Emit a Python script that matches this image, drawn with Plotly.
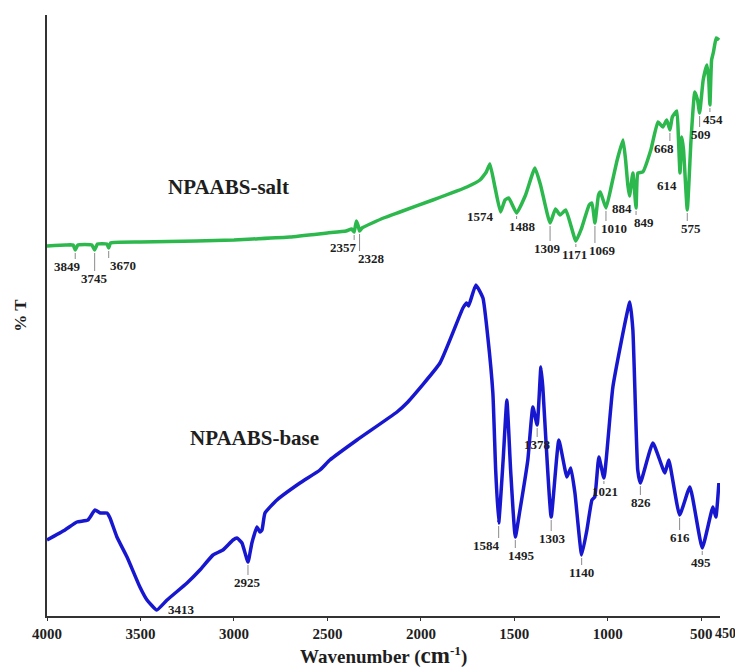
import plotly.graph_objects as go

# ---------------- data (wavenumber cm-1, %T in arbitrary units) ----------------
salt_wn = [4000, 3900, 3860, 3849, 3835, 3760, 3745, 3730, 3680, 3670, 3660, 3500, 3200, 3000,
           2900, 2700, 2500, 2400, 2370, 2357, 2345, 2335, 2328, 2315, 2200, 2112, 1936, 1754,
           1684, 1650, 1631, 1604, 1574, 1550, 1530, 1488, 1440, 1390, 1360, 1309, 1280, 1255,
           1225, 1171, 1140, 1100, 1085, 1069, 1050, 1040, 1010, 980, 950, 919, 905, 893, 884,
           866, 849, 839, 813, 770, 732, 706, 685, 668, 655, 631, 622, 614, 604, 595, 575, 555,
           535, 520, 509, 490, 470, 460, 454, 445, 435, 420, 405]
salt_t = [370, 371, 371, 366, 371, 371, 366, 372, 372, 368, 373, 374, 375, 376,
          377, 379, 383, 385, 387, 384, 395, 390, 385, 388, 398, 404, 416, 429,
          436, 444, 452, 429, 404, 416, 418, 403, 421, 448, 431, 393, 407, 401,
          406, 375, 388, 411, 413, 393, 421, 424, 408, 431, 456, 476, 456, 431, 420,
          443, 408, 443, 444, 466, 494, 489, 496, 486, 499, 505, 476, 443, 479, 466, 406, 476,
          524, 516, 503, 536, 551, 536, 511, 556, 564, 578, 576]

base_wn = [4000, 3904, 3840, 3781, 3743, 3715, 3679, 3663, 3626, 3572, 3503, 3465, 3413, 3358,
           3251, 3182, 3112, 3059, 3005, 2984, 2957, 2925, 2904, 2877, 2861, 2850, 2834, 2770,
           2647, 2540, 2487, 2342, 2128, 2075, 1898, 1775, 1755, 1745, 1706, 1668, 1642, 1615,
           1600, 1584, 1560, 1540, 1520, 1495, 1470, 1428, 1401, 1378, 1358, 1348, 1303, 1262,
           1219, 1198, 1176, 1140, 1112, 1085, 1070, 1048, 1021, 973, 882, 866, 840, 826, 759,
           695, 674, 616, 561, 495, 438, 422, 406]
base_t = [76, 86, 94, 96, 106, 103, 103, 98, 79, 59, 29, 16, 6, 16,
          33, 46, 61, 66, 76, 78, 73, 54, 73, 89, 84, 86, 103, 116,
          133, 146, 156, 176, 204, 213, 253, 308, 313, 310, 331, 318, 279, 223,
          146, 93, 156, 216, 146, 79, 106, 156, 209, 191, 249, 229, 99, 176,
          139, 148, 123, 61, 86, 116, 119, 159, 138, 229, 314, 286, 146, 133, 173,
          143, 156, 101, 129, 68, 109, 99, 133]

salt_peaks = [3849, 3745, 3670, 2357, 2328, 1574, 1488, 1309, 1171, 1069, 1010, 884, 849,
              668, 614, 575, 509, 454]
base_peaks = [3413, 2925, 1584, 1495, 1378, 1303, 1140, 1021, 826, 616, 495]

x_tick_vals = [4000, 3500, 3000, 2500, 2000, 1500, 1000, 500]
x_tick_text = ["4000", "3500", "3000", "2500", "2000", "1500", "1000", "500"]
x_end_label = "450"

# ---------------- label placement (pixel offsets: dx right, dy down) ----------------
salt_offsets = {3849: (-8, 16), 3745: (0, 28), 3670: (14, 17), 2357: (-11, 15), 2328: (12, 27),
                1574: (-20, 4), 1488: (6, 13), 1309: (-3, 25), 1171: (-1, 13), 1069: (8, 27),
                1010: (8, 20), 884: (-8, 12), 849: (8, 14), 668: (-6, 18), 614: (-13, 12),
                575: (4, 18), 509: (1, 21), 454: (3, 14)}
base_offsets = {3413: (25, -1), 2925: (0, 20), 1584: (-12, 22), 1495: (6, 18), 1378: (0, 19),
                1303: (1, 21), 1140: (0, 17), 1021: (1, 13), 826: (1, 19), 616: (0, 22),
                495: (-1, 14)}

SERIF = "Liberation Serif, Times New Roman, serif"
GREEN = "#2cb84c"
BLUE = "#1717cf"
TXT = "#1e1e1e"

fig = go.Figure()
fig.add_trace(go.Scatter(x=salt_wn, y=salt_t, mode="lines",
                         line=dict(color=GREEN, width=3.5, shape="spline", smoothing=0.4),
                         name="NPAABS-salt", showlegend=False, hoverinfo="x+y"))
fig.add_trace(go.Scatter(x=base_wn, y=base_t, mode="lines",
                         line=dict(color=BLUE, width=3.5, shape="spline", smoothing=0.4),
                         name="NPAABS-base", showlegend=False, hoverinfo="x+y"))


def value_at(wns, ts, w):
    for i in range(len(wns) - 1):
        a, b = wns[i], wns[i + 1]
        if a >= w >= b:
            if a == b:
                return ts[i]
            f = (a - w) / (a - b)
            return ts[i] + f * (ts[i + 1] - ts[i])
    return ts[-1]


annotations = []
shapes = []
for wns, ts, peaks, offs in [(salt_wn, salt_t, salt_peaks, salt_offsets),
                             (base_wn, base_t, base_peaks, base_offsets)]:
    for p in peaks:
        yv = value_at(wns, ts, p)
        dx, dy = offs[p]
        annotations.append(dict(x=p, y=yv, xref="x", yref="y", text="<b>" + str(p) + "</b>",
                                showarrow=False, xshift=dx, yshift=-dy,
                                font=dict(family=SERIF, size=13, color=TXT),
                                xanchor="center", yanchor="middle"))
        if dy - 9 > 3:
            shapes.append(dict(type="line", xref="x", yref="y", x0=p, x1=p,
                               y0=yv - 3, y1=yv - (dy - 7),
                               line=dict(color="#8a8a8a", width=1)))

annotations.append(dict(x=0.269, y=429, xref="paper", yref="y", text="<b>NPAABS-salt</b>",
                        showarrow=False, xanchor="center", yanchor="middle",
                        font=dict(family=SERIF, size=21, color=TXT)))
annotations.append(dict(x=0.309, y=178, xref="paper", yref="y", text="<b>NPAABS-base</b>",
                        showarrow=False, xanchor="center", yanchor="middle",
                        font=dict(family=SERIF, size=21, color=TXT)))
annotations.append(dict(x=400, y=0, xref="x", yref="paper", text="<b>" + x_end_label + "</b>",
                        showarrow=False, yshift=-17, xshift=5, xanchor="center", yanchor="middle",
                        font=dict(family=SERIF, size=14, color=TXT)))
annotations.append(dict(x=0.50, y=0, xref="paper", yref="paper",
                        text="<b>Wavenumber (<span style='font-size:23px'>cm</span><sup>-1</sup>)</b>",
                        showarrow=False, yshift=-39, xanchor="center", yanchor="middle",
                        font=dict(family=SERIF, size=19, color=TXT)))

# page body has an 8px default margin, so the figure is sized to fit the 743x669 window
fig.update_layout(
    width=735, height=661,
    margin=dict(l=39, r=23, t=7, b=53, autoexpand=False),
    paper_bgcolor="white", plot_bgcolor="white",
    annotations=annotations, shapes=shapes,
    font=dict(family=SERIF, color=TXT),
)
fig.update_xaxes(range=[4000, 400], autorange=False, tickvals=x_tick_vals,
                 ticktext=[f"<b>{t}</b>" for t in x_tick_text],
                 showline=True, linecolor="#333", linewidth=2, ticks="outside", ticklen=3,
                 tickcolor="#333", showgrid=False, zeroline=False, automargin=False,
                 tickfont=dict(family=SERIF, size=15, color=TXT))
fig.update_yaxes(range=[0, 601], autorange=False, showticklabels=False, ticks="",
                 showline=True, linecolor="#333", linewidth=2, showgrid=False, zeroline=False,
                 automargin=False,
                 title=dict(text="<b>% T</b>", font=dict(family=SERIF, size=17, color=TXT),
                            standoff=14))

fig.write_html("out.html")
